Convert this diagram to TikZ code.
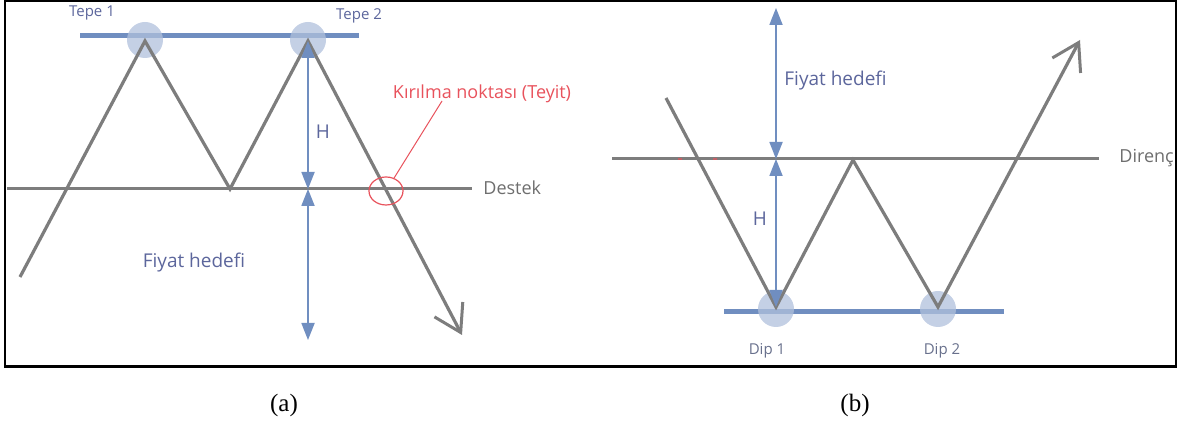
\documentclass[tikz,border=0pt]{standalone}
\usepackage{fontspec}
\setmainfont{Liberation Serif}
\newfontfamily\chartfont{Open Sans}
\usetikzlibrary{arrows.meta,positioning,shapes.geometric}
\definecolor{ChGray}{RGB}{125,125,125}
\definecolor{ChDark}{RGB}{110,110,110}
\definecolor{ChBlue}{RGB}{112,142,192}
\definecolor{ChSpot}{RGB}{176,192,220}
\definecolor{ChText}{RGB}{92,102,156}
\definecolor{ChDip}{RGB}{104,112,140}
\definecolor{ChRed}{RGB}{232,82,92}
\tikzset{
  ch/price/.style={
    draw=ChGray,
    line width=1.6pt,
    -{Straight Barb[length=13pt,width=16pt,line width=1.5pt]}
  },
  ch/level/.style={draw=ChGray, line width=1.5pt},
  ch/band/.style={draw=ChBlue, line width=2.5pt},
  ch/dim/.style={
    draw=ChBlue,
    line width=0.9pt,
    {Triangle[length=8.5pt,width=6.5pt]}-{Triangle[length=8.5pt,width=6.5pt]}
  },
  ch/spot/.style={circle, fill=ChSpot, fill opacity=0.75, minimum size=18pt, inner sep=0pt},
  ch/label/.style={font=\chartfont\fontsize{9.5}{11}\selectfont, text=ChText, inner sep=1pt},
  ch/levellabel/.style={font=\chartfont\fontsize{9}{11}\selectfont, text=ChDark, inner sep=1pt},
  ch/small/.style={font=\chartfont\fontsize{7.5}{9}\selectfont, text=ChText, inner sep=1pt},
  ch/redlabel/.style={font=\chartfont\fontsize{9}{11}\selectfont, text=ChRed, inner sep=1pt},
  ch/caption/.style={font=\fontsize{12.5}{14}\selectfont, inner sep=0pt}
}
\begin{document}
\begin{tikzpicture}[x=0.5pt,y=-0.5pt]
  \useasboundingbox (0,0) rectangle (1179,432);
  % frame
  \draw[line width=0.8pt] (5,1) rectangle (1176,367);
  \draw[line width=1.4pt] (5,366) -- (1176,366);

  % (a) double top
  \coordinate (a0) at (20,277);
  \coordinate (t1) at (145,41);
  \coordinate (d0) at (230,189);
  \coordinate (t2) at (308,41);
  \coordinate (a1) at (462,335);
  \coordinate (hb) at (308,189);
  \coordinate (ha) at (308,340);
  \draw[ch/band] (80,36) -- (359,36);
  \node[ch/spot] (tepe1c) at (145,40) {};
  \node[ch/spot] (tepe2c) at (308,40) {};
  \draw[ch/level] (7,189) -- (472,189);
  \draw[ch/price] (a0) -- (t1) -- (d0) -- (t2) -- (a1);
  \draw[ch/dim] (t2) -- (hb);
  \draw[ch/dim] (hb) -- (ha);
  \node[ch/small] (tepe1) at (92,13) {Tepe 1};
  \node[ch/small] (tepe2) at (359,16) {Tepe 2};
  \node[ch/label] (ha_h) at (323,132) {H};
  \node[ch/label] (ha_hedef) at (194,263) {Fiyat hedefi};
  \node[ch/levellabel,anchor=west] (destek) at (481,188) {Destek};
  \node[ellipse, draw=ChRed, line width=0.6pt, minimum width=17pt, minimum height=14pt, inner sep=0pt] (brk) at (386,191) {};
  \coordinate (brkend) at (442,101);
  \node[ch/redlabel] (brklbl) at (482,94) {Kırılma noktası (Teyit)};
  \draw[ChRed, line width=0.5pt] (brk) -- (brkend);

  % (b) double bottom
  \coordinate (b0) at (666,98);
  \coordinate (u1) at (776,307);
  \coordinate (p0) at (853,160);
  \coordinate (u2) at (938,307);
  \coordinate (b1) at (1080,40);
  \coordinate (rb) at (776,159);
  \coordinate (ra) at (776,8);
  \draw[ch/band] (724,312) -- (1004,312);
  \node[ch/spot] (dip1c) at (776,309) {};
  \node[ch/spot] (dip2c) at (938,309) {};
  \draw[ch/level] (612,159) -- (1099,159);
  \draw[ChRed, line width=0.6pt] (678,159) -- (682,159) (713,159) -- (717,159) (703,169) -- (705,173);
  \draw[ch/price] (b0) -- (u1) -- (p0) -- (u2) -- (b1);
  \draw[ch/dim] (rb) -- (u1);
  \draw[ch/dim] (rb) -- (ra);
  \node[ch/label] (hb_h) at (760,219) {H};
  \node[ch/label,anchor=west] (hb_hedef) at (782,81) {Fiyat hedefi};
  \node[ch/levellabel,anchor=west] (direnc) at (1117,158) {Direnç};
  \node[ch/small,text=ChDip] (dip1) at (767,351) {Dip 1};
  \node[ch/small,text=ChDip] (dip2) at (942,351) {Dip 2};

  % captions
  \node[ch/caption] (capa) at (284,405) {(a)};
  \node[ch/caption] (capb) at (855,405) {(b)};
\end{tikzpicture}
\end{document}
